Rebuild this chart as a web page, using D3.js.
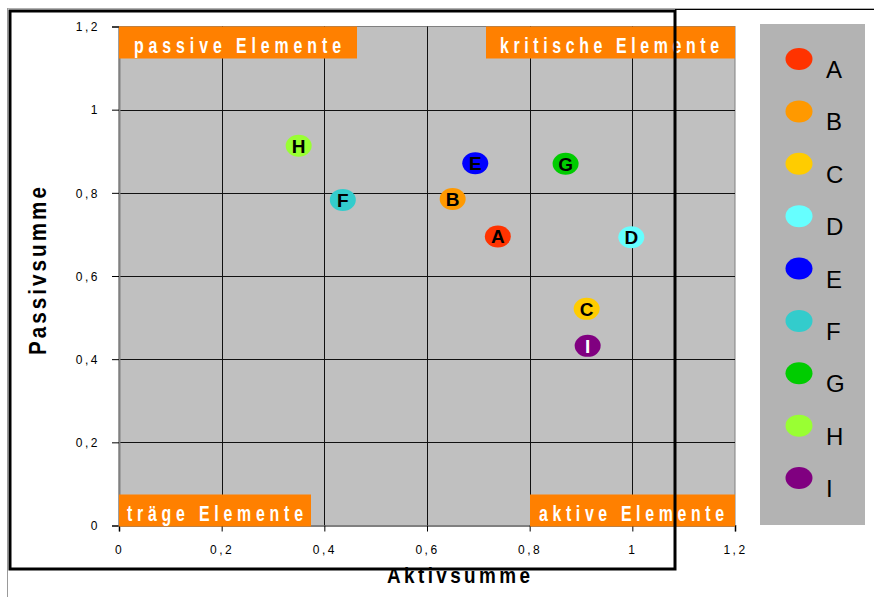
<!DOCTYPE html>
<html>
<head>
<meta charset="utf-8">
<script src="https://cdn.jsdelivr.net/npm/d3@7"></script>
<style>
  body { margin: 0; background: #fff; }
  svg { display: block; font-family: "Liberation Sans", Arial, sans-serif; }
</style>
</head>
<body>
<svg id="chart" width="874" height="597"></svg>
<script>
// Data
const elements = ["A", "B", "C", "D", "E", "F", "G", "H", "I"];
const aktiv    = [0.738, 0.650, 0.911, 0.998, 0.694, 0.436, 0.870, 0.350, 0.913];
const passiv   = [0.695, 0.785, 0.521, 0.693, 0.871, 0.783, 0.870, 0.913, 0.432];
const colors   = ["#FF3300", "#FF9900", "#FFCC00", "#66FFFF", "#0000FF", "#33CCCC", "#00CC00", "#99FF33", "#800080"];
const tickValues = [0, 0.2, 0.4, 0.6, 0.8, 1, 1.2];
const tickLabels = ["0", "0,2", "0,4", "0,6", "0,8", "1", "1,2"];
const quadrantLabels = ["passive Elemente", "kritische Elemente", "träge Elemente", "aktive Elemente"];

const svg = d3.select("#chart");
const plot = { left: 119, right: 735, top: 26.5, bottom: 525.5 };

const x = d3.scaleLinear().domain([0, 1.2]).range([plot.left, plot.right]);
const y = d3.scaleLinear().domain([0, 1.2]).range([plot.bottom, plot.top]);

// thin outer chart border (partly visible)
svg.append("line").attr("x1", 7).attr("x2", 874).attr("y1", 8.5).attr("y2", 8.5)
  .attr("stroke", "#b0b0b0").attr("stroke-width", 1);
svg.append("line").attr("x1", 675).attr("x2", 874).attr("y1", 9.5).attr("y2", 9.5)
  .attr("stroke", "#000").attr("stroke-width", 1);
svg.append("line").attr("x1", 7.5).attr("x2", 7.5).attr("y1", 8).attr("y2", 597)
  .attr("stroke", "#9a9a9a").attr("stroke-width", 1);

// plot background
svg.append("rect")
  .attr("x", plot.left).attr("y", plot.top)
  .attr("width", plot.right - plot.left).attr("height", plot.bottom - plot.top)
  .attr("fill", "#C0C0C0").attr("stroke", "#808080").attr("stroke-width", 1);

// grid
const grid = svg.append("g").attr("stroke", "#111").attr("stroke-width", 1);
tickValues.slice(1, -1).forEach(v => {
  grid.append("line")
    .attr("x1", Math.round(x(v)) + 0.5).attr("x2", Math.round(x(v)) + 0.5)
    .attr("y1", plot.top).attr("y2", plot.bottom);
  grid.append("line")
    .attr("x1", plot.left).attr("x2", plot.right)
    .attr("y1", Math.round(y(v)) + 0.5).attr("y2", Math.round(y(v)) + 0.5);
});

// axes
const fmt = d => tickLabels[tickValues.indexOf(d)];
const yAxis = svg.append("g")
  .attr("transform", `translate(${plot.left},0)`)
  .call(d3.axisLeft(y).tickValues(tickValues).tickFormat(fmt).tickSize(7).tickPadding(12));
const xAxis = svg.append("g")
  .attr("transform", `translate(0,${plot.bottom})`)
  .call(d3.axisBottom(x).tickValues(tickValues).tickFormat(fmt).tickSize(6).tickPadding(12));

[xAxis, yAxis].forEach(a => {
  a.select(".domain").attr("stroke", "#808080").attr("stroke-width", 2);
  a.selectAll(".tick line").attr("stroke", "#000");
  a.selectAll(".tick text")
    .attr("fill", "#000")
    .style("font-family", "'Liberation Sans', Arial, sans-serif")
    .style("font-size", "12px")
    .style("letter-spacing", "2.5px");
});
yAxis.selectAll(".tick text").attr("dy", "0.36em");
xAxis.selectAll(".tick text").attr("dy", "0.9em");

// narrow text helper: squeezed horizontally (no narrow font installed), stretched to a width
function narrowText(parent, tx, ty, rot, squeeze, width, size, weight, fill, txt) {
  parent.append("text")
    .attr("transform", `translate(${tx},${ty}) rotate(${rot}) scale(${squeeze},1)`)
    .attr("textLength", width / squeeze).attr("lengthAdjust", "spacing")
    .attr("fill", fill)
    .style("font-size", size + "px").style("font-weight", weight)
    .text(txt);
}

// quadrant labels (orange boxes)
const quadLayout = [
  { corner: "tl", padL: 15, padR: 16, w: 207 },
  { corner: "tr", padL: 14, padR: 16, w: 219 },
  { corner: "bl", padL: 8,  padR: 8,  w: 176 },
  { corner: "br", padL: 9,  padR: 11, w: 185 }
];
quadrantLabels.forEach((txt, i) => {
  const L = quadLayout[i];
  const bw = L.padL + L.w + L.padR;
  const bx = L.corner[1] === "l" ? x(0) : x(1.2) - bw;
  const by = L.corner[0] === "t" ? y(1.2) : y(0) - 31;
  svg.append("rect")
    .attr("x", bx).attr("y", by).attr("width", bw).attr("height", 32)
    .attr("fill", "#FF8000");
  narrowText(svg, bx + L.padL, by + 26, 0, 0.74, L.w, 21.5, "bold", "#fff", txt);
});

// points
const pts = svg.append("g");
elements.forEach((name, i) => {
  const g = pts.append("g").attr("transform", `translate(${x(aktiv[i])},${y(passiv[i])})`);
  g.append("ellipse").attr("rx", 13).attr("ry", 11).attr("fill", colors[i]);
  g.append("text")
    .attr("text-anchor", "middle").attr("y", 7)
    .attr("fill", name === "I" ? "#fff" : "#000")
    .style("font-size", "19px").style("font-weight", "bold")
    .text(name);
});

// legend
svg.append("rect").attr("x", 760).attr("y", 24).attr("width", 105).attr("height", 501)
  .attr("fill", "#B3B3B3");
const legendY = d3.scalePoint().domain(elements).range([59, 478]);
elements.forEach((name, i) => {
  svg.append("ellipse")
    .attr("cx", 799).attr("cy", legendY(name))
    .attr("rx", 13.5).attr("ry", 11).attr("fill", colors[i]);
  svg.append("text")
    .attr("x", 826).attr("y", legendY(name) + 19)
    .attr("fill", "#000")
    .style("font-size", "24px")
    .text(name);
});

// axis titles
narrowText(svg, 387, 583, 0, 0.86, 143, 22, "bold", "#000", "Aktivsumme");
narrowText(svg, 46, 355, -90, 0.86, 168, 24, "bold", "#000", "Passivsumme");

// black frame on top
svg.append("rect")
  .attr("x", 10).attr("y", 11).attr("width", 665).attr("height", 558)
  .attr("fill", "none").attr("stroke", "#000").attr("stroke-width", 3);
</script>
</body>
</html>
